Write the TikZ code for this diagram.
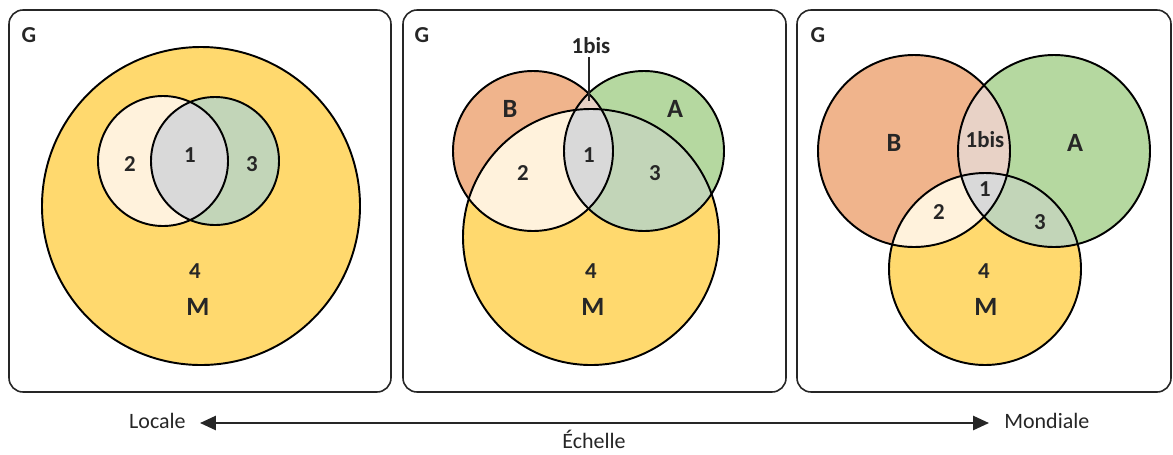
\documentclass[tikz,border=0pt]{standalone}
\usepackage{fontspec}
\setmainfont{Carlito}
\usetikzlibrary{arrows.meta}
\definecolor{cB}{HTML}{F0B48C}
\definecolor{cA}{HTML}{B5D8A0}
\definecolor{cM}{HTML}{FFD96E}
\definecolor{cTwo}{HTML}{FFF2DC}
\definecolor{cThree}{HTML}{C2D5B8}
\definecolor{cOne}{HTML}{D9D9D9}
\definecolor{cBis}{HTML}{E8D2C6}
\definecolor{ink}{HTML}{262626}
\tikzset{
  panel/.style={draw=ink, line width=0.9pt, rounded corners=8pt},
  ring/.style={draw=black, line width=1.1pt},
  lab/.style={font=\fontsize{13}{14}\selectfont\bfseries, text=ink, inner sep=0pt},
  big/.style={font=\fontsize{15}{16}\selectfont\bfseries, text=ink, inner sep=0pt},
  axis/.style={font=\fontsize{12.5}{13}\selectfont, text=ink, inner sep=0pt}
}
\begin{document}
\begin{tikzpicture}[x=0.02cm,y=-0.02cm]
\useasboundingbox (0,0) rectangle (1173,454);
% ---------- panels ----------
\draw[panel] (9,10) rectangle (391,392);
\draw[panel] (403,10) rectangle (786,392);
\draw[panel] (797,10) rectangle (1171,392);
% ---------- panel 1 ----------
\fill[cM] (201,206) circle (159);
\fill[cTwo] (163,161) circle (65);
\fill[cThree] (215,161) circle (64);
\begin{scope}
  \clip (163,161) circle (65);
  \fill[cOne] (215,161) circle (64);
\end{scope}
\draw[ring] (201,206) circle (159);
\draw[ring] (163,161) circle (65);
\draw[ring] (215,161) circle (64);
\node[lab] (g1) at (29,35) {G};
\node[lab] (p1two) at (130,164) {2};
\node[lab] (p1one) at (190,155) {1};
\node[lab] (p1three) at (252,164) {3};
\node[lab] (p1four) at (195,271) {4};
\node[big] (p1m) at (198,307) {M};
% ---------- panel 2 ----------
\fill[cB] (533,151) circle (80);
\fill[cA] (644,151) circle (80);
\fill[cM] (591,237) circle (128);
\begin{scope}
  \clip (591,237) circle (128);
  \fill[cTwo] (533,151) circle (80);
  \fill[cThree] (644,151) circle (80);
\end{scope}
\begin{scope}
  \clip (533,151) circle (80);
  \clip (644,151) circle (80);
  \fill[cBis] (591,151) circle (100);
  \fill[cOne] (591,237) circle (128);
\end{scope}
\draw[ring] (533,151) circle (80);
\draw[ring] (644,151) circle (80);
\draw[ring] (591,237) circle (128);
\node[lab] (g2) at (422,35) {G};
\node[lab] (p2bis) at (591,46) {1bis};
\coordinate (p2bistop) at (589,57);
\coordinate (p2bisend) at (589,101);
\draw[line width=1.3pt, draw=ink] (p2bistop) -- (p2bisend);
\node[big] (p2b) at (510,109) {B};
\node[big] (p2a) at (675,109) {A};
\node[lab] (p2one) at (589,155) {1};
\node[lab] (p2two) at (523,173) {2};
\node[lab] (p2three) at (655,173) {3};
\node[lab] (p2four) at (591,271) {4};
\node[big] (p2m) at (593,307) {M};
% ---------- panel 3 ----------
\fill[cB] (914,151) circle (96);
\fill[cA] (1054,151) circle (96);
\fill[cM] (985,269) circle (96);
\begin{scope}
  \clip (985,269) circle (96);
  \fill[cTwo] (914,151) circle (96);
  \fill[cThree] (1054,151) circle (96);
\end{scope}
\begin{scope}
  \clip (914,151) circle (96);
  \clip (1054,151) circle (96);
  \fill[cBis] (984,151) circle (120);
  \fill[cOne] (985,269) circle (96);
\end{scope}
\draw[ring] (914,151) circle (96);
\draw[ring] (1054,151) circle (96);
\draw[ring] (985,269) circle (96);
\node[lab] (g3) at (818,35) {G};
\node[big] (p3b) at (894,143) {B};
\node[big] (p3a) at (1075,143) {A};
\node[lab] (p3bis) at (985,140) {1bis};
\node[lab] (p3one) at (985,189) {1};
\node[lab] (p3two) at (939,212) {2};
\node[lab] (p3three) at (1040,222) {3};
\node[lab] (p3four) at (984,271) {4};
\node[big] (p3m) at (986,307) {M};
% ---------- scale axis ----------
\node[axis, anchor=east] (loc) at (186,421) {Locale};
\node[axis, anchor=west] (mond) at (1004,421) {Mondiale};
\node[axis, anchor=base] (ech) at (594,448) {Échelle};
\coordinate (axl) at (200,423);
\coordinate (axr) at (989,423);
\draw[line width=1.2pt, draw=ink, {Triangle[length=9pt,width=8pt]}-{Triangle[length=9pt,width=8pt]}] (axl) -- (axr);
\end{tikzpicture}
\end{document}
